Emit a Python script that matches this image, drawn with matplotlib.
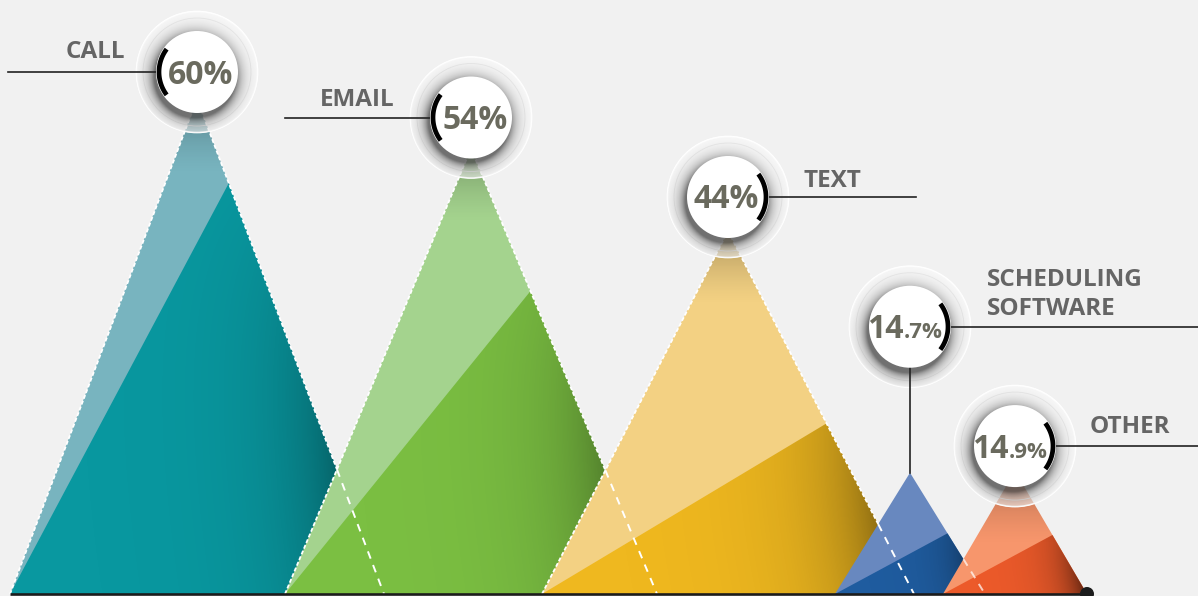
import numpy as np
import matplotlib.pyplot as plt
from matplotlib.patches import Polygon, Ellipse

plt.rcParams['font.family'] = ['Open Sans', 'DejaVu Sans']

# data
channels = ['CALL', 'EMAIL', 'TEXT', 'SCHEDULING\nSOFTWARE', 'OTHER']
share = [60, 54, 44, 14.7, 14.9]

# layout (pixels) and colours
x_center = [197, 471, 728, 910, 1015]
half_width = [187, 186, 186, 75, 72]
split_frac = [0.83, 0.68, 0.47, 0.50, 0.48]
circle_lift = [27, 31, 34, 146, 25]
arc_side = ['left', 'left', 'right', 'right', 'right']
label_dx = [-72, -76, 75, 77, 75]
label_dy = [-20, -17, -16, -32, -19]
line_end = [8, 285, 916, 1198, 1198]
light = ['#78b4bf', '#a4d38e', '#f3d183', '#6888bf', '#f7966c']
dark = ['#0998a0', '#7bbf42', '#efb81f', '#1f5c9f', '#ec5a2a']
outlined = [True, True, True, False, False]

W, H = 1198, 596
BASE = 594          # baseline pixel row
K = 8.25            # pixels per percentage point
R_OUT, R_IN, R_ARC = 61, 41, 38

fig = plt.figure(figsize=(W / 100, H / 100), dpi=100, facecolor='#f1f1f1')
ax = fig.add_axes([0, 0, 1, 1])
ax.set_facecolor('#f1f1f1')
ax.axis('off')


def py(p):
    # pixel length -> data units on the value axis
    return p / K


def shade(poly, zorder, fn, res=220, clip=None):
    x0, x1 = poly[:, 0].min(), poly[:, 0].max()
    y0, y1 = poly[:, 1].min(), poly[:, 1].max()
    X, Y = np.meshgrid(np.linspace(x0, x1, res), np.linspace(y0, y1, res))
    if clip is None:
        clip = Polygon(poly, closed=True, fc='none', ec='none')
        ax.add_patch(clip)
    im = ax.imshow(fn(X, Y), extent=(x0, x1, y0, y1), origin='lower',
                   aspect='auto', zorder=zorder, interpolation='bilinear')
    im.set_clip_path(clip)


def circ(cx, cy, r, **kw):
    e = Ellipse((cx, cy), 2 * r, py(2 * r), **kw)
    ax.add_patch(e)
    return e


def black(a):
    out = np.zeros(a.shape + (4,))
    out[..., 3] = a
    return out


tris = []
for i, v in enumerate(share):
    cx, hw = x_center[i], half_width[i]
    apex = np.array([cx, v])
    left = np.array([cx - hw, 0])
    right = np.array([cx + hw, 0])
    tris.append((apex, left, right))
    z = 1 + i
    f = split_frac[i]
    ax.add_patch(Polygon([left, apex, right], closed=True, fc=light[i], ec='none', zorder=z))
    mid = right + f * (apex - right)
    dpoly = np.array([left, mid, right])
    ax.add_patch(Polygon(dpoly, closed=True, fc=dark[i], ec='none', zorder=z + 0.1))

    # darker band along the lower right edge
    def corner(X, Y, cx=cx, hw=hw, v=v):
        edge_x = cx + hw * (1 - Y / v)
        d = np.clip(edge_x - X, 0, None)
        a = 0.6 * np.exp(-d / (0.3 * hw)) * np.clip(1 - Y / v, 0, 1) ** 2
        return black(a)
    shade(dpoly, z + 0.2, corner)

    # shadow cast by the badge near the apex
    if circle_lift[i] < 60:
        def top(X, Y, v=v):
            return black(np.clip(1 - (v - Y) * K / 75, 0, 1) ** 1.5 * 0.3)
        shade(np.array([left, apex, right]), z + 0.3, top)

# white dashed edges
for i, (apex, left, right) in enumerate(tris):
    cut = right
    if i + 1 < len(tris):
        a2, l2, _ = tris[i + 1]
        M = np.column_stack([right - apex, -(l2 - a2)])
        t, s = np.linalg.solve(M, a2 - apex)
        if 0 < t < 1 and 0 < s < 1:
            cut = apex + t * (right - apex)
            ax.plot([cut[0], right[0]], [cut[1], right[1]], color='white',
                    lw=1.4, dashes=(4, 3.5), zorder=10,
                    alpha=1.0 if i < 3 else 0.7)
    if outlined[i]:
        ax.plot([left[0], apex[0]], [left[1], apex[1]], color='white', lw=1.3,
                dashes=(2.2, 1.2), zorder=10)
        ax.plot([apex[0], cut[0]], [apex[1], cut[1]], color='white', lw=1.3,
                dashes=(2.2, 1.2), zorder=10)

# baseline
x_lo = x_center[0] - half_width[0]
x_hi = x_center[-1] + half_width[-1]
ax.plot([x_lo, x_hi], [0, 0], color='#1c1c1c', lw=1.9, zorder=12, solid_capstyle='butt')
circ(x_hi, 0, 7, fc='#1c1c1c', ec='none', zorder=12)

# badges, labels and leader lines
for i, v in enumerate(share):
    cx = x_center[i]
    cy = v + py(circle_lift[i])
    circ(cx, cy, R_OUT, fc='white', ec='none', alpha=0.62, zorder=20)
    ring = circ(cx, cy, R_OUT - 0.5, fc='none', ec='#ffffff', lw=1.2, zorder=20)
    circ(cx, cy, 54, fc='none', ec='#ebebeb', lw=0.6, zorder=20)

    def glow(X, Y, cx=cx, cy=cy):
        d = np.hypot(X - (cx - 2), (Y - (cy - py(5))) * K)
        return black(0.55 * np.exp(-np.clip(d - R_IN, 0, None) / 6.5))
    box = np.array([[cx - R_OUT, cy - py(R_OUT)], [cx + R_OUT, cy + py(R_OUT)]])
    shade(box, 21, glow, res=160, clip=ring)
    circ(cx, cy, R_IN, fc='white', ec='none', zorder=24)

    if arc_side[i] == 'left':
        th = np.radians(np.linspace(143, 217, 60))
        x0, x1 = line_end[i], cx - R_IN + 2
        tx, ha = cx + label_dx[i], 'right'
    else:
        th = np.radians(np.linspace(-37, 37, 60))
        x0, x1 = cx + R_IN - 2, line_end[i]
        tx, ha = cx + label_dx[i], 'left'
    ax.plot([x0, x1], [cy, cy], color='#222222', lw=1.2, zorder=23)
    ax.plot(cx + R_ARC * np.cos(th), cy + py(R_ARC * np.sin(th)), color='black',
            lw=3.4, zorder=27, solid_capstyle='butt')

    if circle_lift[i] > 60:
        ax.plot([cx, cx], [cy - py(R_IN), v], color='#222222', lw=1.2, zorder=23)

    ax.text(tx, cy - py(label_dy[i]), channels[i], ha=ha, va='center',
            fontsize=17.5, fontweight='bold', color='#656565', linespacing=1.25,
            zorder=30)

    base_y = cy - py(11.5)
    if float(v).is_integer():
        shift = 4 if arc_side[i] == 'left' else -2
        ax.text(cx + shift, base_y, f'{int(v)}%', ha='center', va='baseline',
                fontsize=23, fontweight='bold', color='#6a6a5e', zorder=30)
    else:
        whole, frac = f'{v:.1f}'.split('.')
        ax.text(cx - 6, base_y, whole, ha='right', va='baseline',
                fontsize=23, fontweight='bold', color='#6a6a5e', zorder=30)
        ax.text(cx - 6, base_y, f'.{frac}%', ha='left', va='baseline',
                fontsize=16, fontweight='bold', color='#6a6a5e', zorder=30)

ax.set_xlim(0, W)
ax.set_ylim(-py(H - BASE), py(BASE))
fig.savefig('out.png', dpi=100, facecolor=fig.get_facecolor())
